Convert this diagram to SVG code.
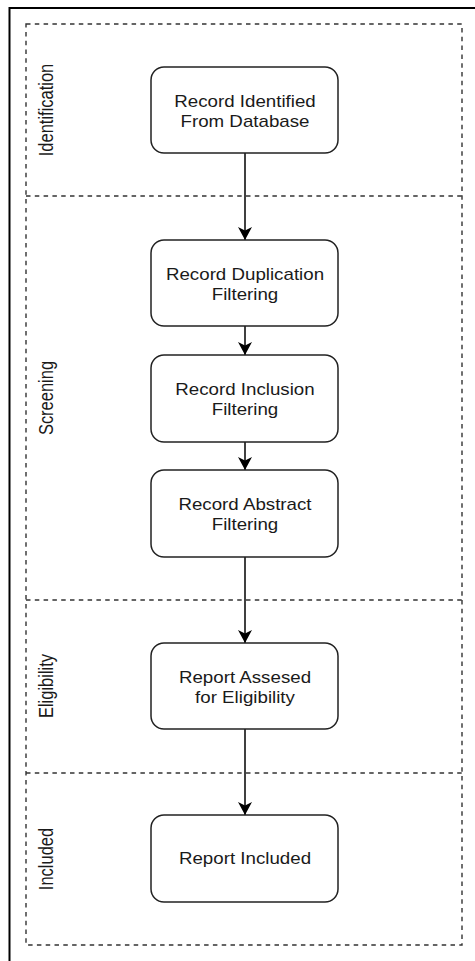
<svg xmlns="http://www.w3.org/2000/svg" width="475" height="961" viewBox="0 0 475 961">
  <style>
    .frame { fill: none; stroke: #000; stroke-width: 2; }
    .phase { fill: none; stroke: #333; stroke-width: 1.4; stroke-dasharray: 4.5 4.3; }
    .node rect { fill: #fff; stroke: #222; stroke-width: 1.5; }
    .lbl { font-family: "Liberation Sans", Arial, sans-serif; font-size: 16px; fill: #1a1a1a; text-anchor: middle; }
    .phase-lbl { font-family: "Liberation Sans", Arial, sans-serif; font-size: 16.5px; fill: #1a1a1a; text-anchor: middle; }
    .edge { fill: none; stroke: #000; stroke-width: 1.5; }
  </style>
  <defs>
    <marker id="arrow" viewBox="0 0 14 14" refX="13" refY="7" markerWidth="14" markerHeight="14" markerUnits="userSpaceOnUse" orient="auto">
      <path d="M13,7 L0,0 L3.5,7 L0,14 Z" fill="#000"/>
    </marker>
  </defs>

  <rect width="475" height="961" fill="#fff"/>

  <!-- outer frame -->
  <rect class="frame" x="9.5" y="8" width="520" height="1000"/>

  <!-- phase lanes: one dashed outline with dividers between phases -->
  <g id="lanes">
    <rect class="phase" x="26" y="24" width="436" height="921"/>
    <line class="phase" x1="26" y1="196" x2="462" y2="196"/>
    <line class="phase" x1="26" y1="600" x2="462" y2="600"/>
    <line class="phase" x1="26" y1="773" x2="462" y2="773"/>
  </g>
  <g id="lane-identification">
    <text class="phase-lbl" transform="translate(53,110) scale(1.17,1) rotate(-90)">Identification</text>
  </g>
  <g id="lane-screening">
    <text class="phase-lbl" transform="translate(53,398) scale(1.17,1) rotate(-90)">Screening</text>
  </g>
  <g id="lane-eligibility">
    <text class="phase-lbl" transform="translate(53,686) scale(1.17,1) rotate(-90)">Eligibility</text>
  </g>
  <g id="lane-included">
    <text class="phase-lbl" transform="translate(53,859) scale(1.17,1) rotate(-90)">Included</text>
  </g>

  <!-- connectors -->
  <g id="connectors">
    <line class="edge" x1="245" y1="153" x2="245" y2="240" marker-end="url(#arrow)"/>
    <line class="edge" x1="245" y1="326" x2="245" y2="355" marker-end="url(#arrow)"/>
    <line class="edge" x1="245" y1="442" x2="245" y2="470" marker-end="url(#arrow)"/>
    <line class="edge" x1="245" y1="557" x2="245" y2="643" marker-end="url(#arrow)"/>
    <line class="edge" x1="245" y1="729" x2="245" y2="815" marker-end="url(#arrow)"/>
  </g>

  <!-- steps -->
  <g id="node-identified" class="node">
    <rect x="151" y="67" width="187" height="86" rx="13"/>
    <text class="lbl" transform="translate(245,107) scale(1.17,1)">Record Identified</text>
    <text class="lbl" transform="translate(245,127) scale(1.17,1)">From Database</text>
  </g>
  <g id="node-duplication" class="node">
    <rect x="151" y="240" width="187" height="86" rx="13"/>
    <text class="lbl" transform="translate(245,280) scale(1.17,1)">Record Duplication</text>
    <text class="lbl" transform="translate(245,300) scale(1.17,1)">Filtering</text>
  </g>
  <g id="node-inclusion" class="node">
    <rect x="151" y="355" width="187" height="87" rx="13"/>
    <text class="lbl" transform="translate(245,395) scale(1.17,1)">Record Inclusion</text>
    <text class="lbl" transform="translate(245,415) scale(1.17,1)">Filtering</text>
  </g>
  <g id="node-abstract" class="node">
    <rect x="151" y="470" width="187" height="87" rx="13"/>
    <text class="lbl" transform="translate(245,510) scale(1.17,1)">Record Abstract</text>
    <text class="lbl" transform="translate(245,530) scale(1.17,1)">Filtering</text>
  </g>
  <g id="node-eligibility" class="node">
    <rect x="151" y="643" width="187" height="86" rx="13"/>
    <text class="lbl" transform="translate(245,682.5) scale(1.17,1)">Report Assesed</text>
    <text class="lbl" transform="translate(245,702.5) scale(1.17,1)">for Eligibility</text>
  </g>
  <g id="node-included" class="node">
    <rect x="151" y="815" width="187" height="87" rx="13"/>
    <text class="lbl" transform="translate(245,864) scale(1.17,1)">Report Included</text>
  </g>
</svg>
